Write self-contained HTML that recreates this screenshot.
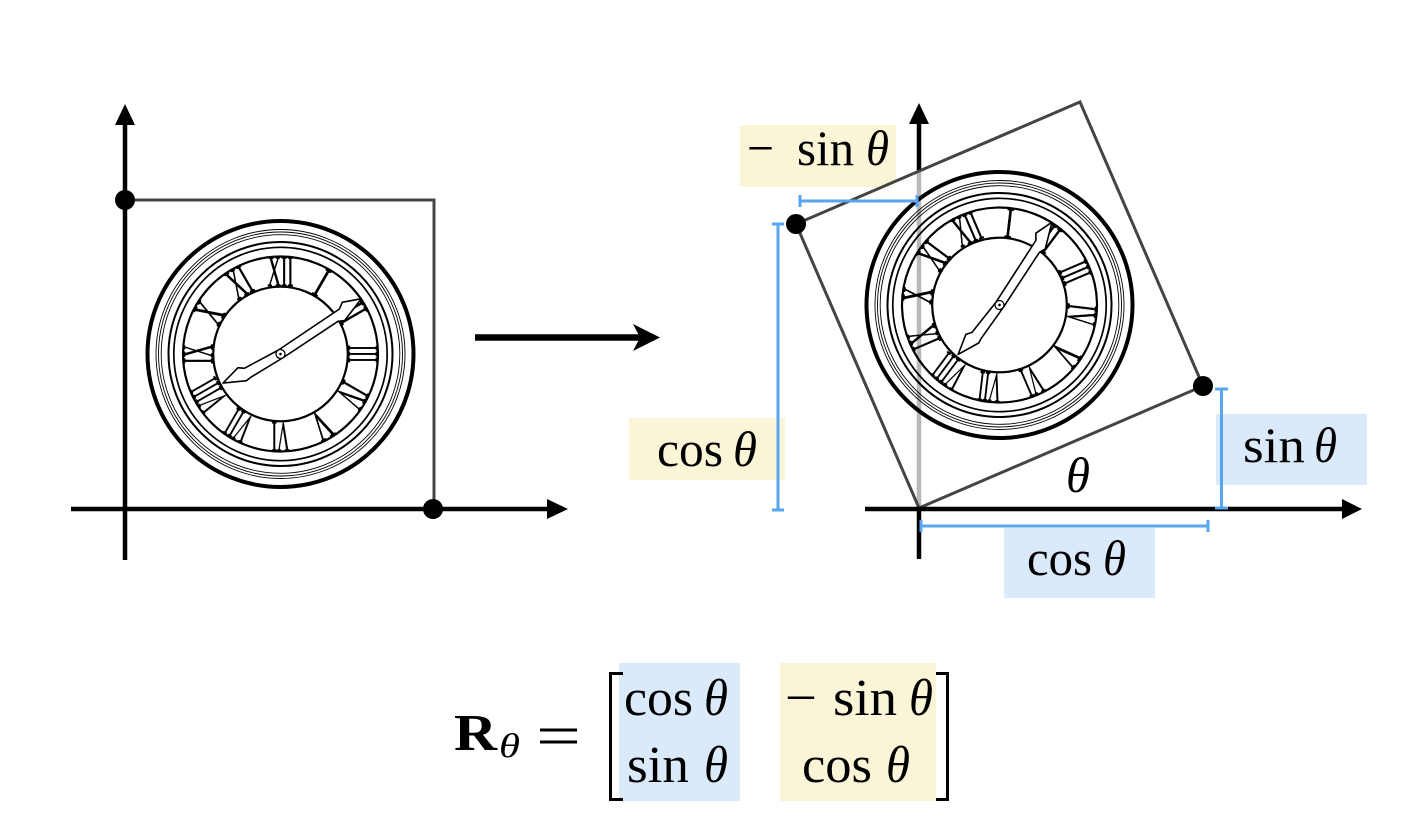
<!DOCTYPE html>
<html><head><meta charset="utf-8"><style>
html,body{margin:0;padding:0;background:#fff;}
svg{display:block;}
text{font-family:"Liberation Serif","DejaVu Serif",serif;}
.it{font-style:italic;}
</style></head><body>
<svg width="1404" height="825" viewBox="0 0 1404 825" xmlns="http://www.w3.org/2000/svg">
<rect width="1404" height="825" fill="#fff"/>

<!-- label boxes -->
<rect x="740" y="125" width="156" height="62" fill="#fbf5d8"/>
<rect x="629" y="418" width="156" height="62" fill="#fbf5d8"/>
<rect x="1216" y="414" width="151" height="71" fill="#dbeafb"/>
<rect x="1004" y="528" width="151" height="70" fill="#dbeafb"/>
<rect x="619" y="663" width="121" height="138" fill="#dbeafb"/>
<rect x="780" y="663" width="156" height="138" fill="#fbf5d8"/>

<!-- LEFT FIGURE -->
<path d="M125,200 H434 V509" fill="none" stroke="#444" stroke-width="3"/>
<g transform="translate(280.5,354)" fill="none" stroke="#000">
  <circle r="133" stroke-width="4"/>
  <circle r="124.5" stroke-width="0.9"/>
  <circle r="122" stroke-width="0.9"/>
  <circle r="119.3" stroke-width="0.9"/>
  <circle r="112" stroke-width="2"/>
  <circle r="106.7" stroke-width="1.7"/>
  <circle r="97.5" stroke-width="2.2"/>
  <circle r="67.3" stroke-width="2.2"/>
  <g fill="#000" stroke="#000" stroke-width="0.8" font-size="44" text-anchor="middle">
    <text x="0" y="-68" textLength="26" lengthAdjust="spacingAndGlyphs">XII</text>
    <text x="0" y="-68" transform="rotate(30)" textLength="8" lengthAdjust="spacingAndGlyphs">I</text>
    <text x="0" y="-68" transform="rotate(60)" textLength="14" lengthAdjust="spacingAndGlyphs">II</text>
    <text x="0" y="-68" transform="rotate(90)" textLength="18" lengthAdjust="spacingAndGlyphs">III</text>
    <text x="0" y="-68" transform="rotate(120)" textLength="21" lengthAdjust="spacingAndGlyphs">IV</text>
    <text x="0" y="-68" transform="rotate(150)" textLength="17" lengthAdjust="spacingAndGlyphs">V</text>
    <text x="0" y="-68" transform="rotate(180)" textLength="18" lengthAdjust="spacingAndGlyphs">VI</text>
    <text x="0" y="-68" transform="rotate(210)" textLength="23" lengthAdjust="spacingAndGlyphs">VII</text>
    <text x="0" y="-68" transform="rotate(240)" textLength="29" lengthAdjust="spacingAndGlyphs">VIII</text>
    <text x="0" y="-68" transform="rotate(270)" textLength="20" lengthAdjust="spacingAndGlyphs">IX</text>
    <text x="0" y="-68" transform="rotate(300)" textLength="16" lengthAdjust="spacingAndGlyphs">X</text>
    <text x="0" y="-68" transform="rotate(330)" textLength="21" lengthAdjust="spacingAndGlyphs">XI</text>
  </g>
  <g transform="rotate(-33.5)">
    <polygon points="5,-4.5 74,-5 80,-9 98,-1.5 72,7.5 66,4.5 0,4.5 -38,3 -43,3.5 -64,-7.5 -43,-12 -38,-8 0,-4.5" fill="#fff" stroke="#000" stroke-width="1.6" stroke-linejoin="round"/>
    <circle r="4.5" fill="#fff" stroke-width="1.3"/>
    <circle r="1.3" fill="#000" stroke="none"/>
  </g>
</g>
<line x1="71" y1="509" x2="550" y2="509" stroke="#000" stroke-width="4.5"/>
<polygon points="568,509 547,499 547,519" fill="#000"/>
<line x1="125" y1="560" x2="125" y2="122" stroke="#000" stroke-width="4.5"/>
<polygon points="125,104 115,125 135,125" fill="#000"/>
<circle cx="125" cy="200" r="10" fill="#000"/>
<circle cx="433" cy="509" r="10" fill="#000"/>

<!-- middle arrow -->
<line x1="475" y1="337.5" x2="641" y2="337.5" stroke="#000" stroke-width="6.5"/>
<polygon points="660,337.5 633,324 640,337.5 633,351" fill="#000"/>

<!-- RIGHT FIGURE -->
<line x1="919" y1="559" x2="919" y2="122" stroke="#000" stroke-width="4.5"/>
<polygon points="919,103 909,124 929,124" fill="#000"/>
<polygon points="919,508 1203,386 1080,102 796,224" fill="#fff" fill-opacity="0.72"/>
<g transform="translate(999.5,305) rotate(-23.25)" fill="none" stroke="#000">
  <circle r="133" stroke-width="4"/>
  <circle r="124.5" stroke-width="0.9"/>
  <circle r="122" stroke-width="0.9"/>
  <circle r="119.3" stroke-width="0.9"/>
  <circle r="112" stroke-width="2"/>
  <circle r="106.7" stroke-width="1.7"/>
  <circle r="97.5" stroke-width="2.2"/>
  <circle r="67.3" stroke-width="2.2"/>
  <g fill="#000" stroke="#000" stroke-width="0.8" font-size="44" text-anchor="middle">
    <text x="0" y="-68" textLength="26" lengthAdjust="spacingAndGlyphs">XII</text>
    <text x="0" y="-68" transform="rotate(30)" textLength="8" lengthAdjust="spacingAndGlyphs">I</text>
    <text x="0" y="-68" transform="rotate(60)" textLength="14" lengthAdjust="spacingAndGlyphs">II</text>
    <text x="0" y="-68" transform="rotate(90)" textLength="18" lengthAdjust="spacingAndGlyphs">III</text>
    <text x="0" y="-68" transform="rotate(120)" textLength="21" lengthAdjust="spacingAndGlyphs">IV</text>
    <text x="0" y="-68" transform="rotate(150)" textLength="17" lengthAdjust="spacingAndGlyphs">V</text>
    <text x="0" y="-68" transform="rotate(180)" textLength="18" lengthAdjust="spacingAndGlyphs">VI</text>
    <text x="0" y="-68" transform="rotate(210)" textLength="23" lengthAdjust="spacingAndGlyphs">VII</text>
    <text x="0" y="-68" transform="rotate(240)" textLength="29" lengthAdjust="spacingAndGlyphs">VIII</text>
    <text x="0" y="-68" transform="rotate(270)" textLength="20" lengthAdjust="spacingAndGlyphs">IX</text>
    <text x="0" y="-68" transform="rotate(300)" textLength="16" lengthAdjust="spacingAndGlyphs">X</text>
    <text x="0" y="-68" transform="rotate(330)" textLength="21" lengthAdjust="spacingAndGlyphs">XI</text>
  </g>
  <g transform="rotate(-33.5)">
    <polygon points="5,-4.5 74,-5 80,-9 98,-1.5 72,7.5 66,4.5 0,4.5 -38,3 -43,3.5 -64,-7.5 -43,-12 -38,-8 0,-4.5" fill="#fff" stroke="#000" stroke-width="1.6" stroke-linejoin="round"/>
    <circle r="4.5" fill="#fff" stroke-width="1.3"/>
    <circle r="1.3" fill="#000" stroke="none"/>
  </g>
</g>
<polygon points="919,508 1203,386 1080,102 796,224" fill="none" stroke="#444" stroke-width="3" stroke-linejoin="miter"/>
<line x1="865" y1="509" x2="1345" y2="509" stroke="#000" stroke-width="4.5"/>
<polygon points="1362,509 1342,499 1342,519" fill="#000"/>
<circle cx="796" cy="224" r="10" fill="#000"/>
<circle cx="1203" cy="386" r="10" fill="#000"/>

<!-- blue dimension lines -->
<g stroke="#58a6f2" stroke-width="3" fill="none">
  <path d="M800,201 H917 M800,195 V207 M917,195 V207"/>
  <path d="M778,224 V510 M772,224 H784 M772,510 H784"/>
  <path d="M1221.5,389 V508 M1215,389 H1228 M1215,508 H1228"/>
  <path d="M921,526 H1208 M921,520 V532 M1208,520 V532"/>
</g>

<!-- labels -->
<g font-size="50" fill="#000">
  <text x="747" y="165" textLength="27" lengthAdjust="spacingAndGlyphs">−</text>
  <text x="797" y="165" textLength="57" lengthAdjust="spacingAndGlyphs">sin</text>
  <text x="866" y="165" class="it" textLength="23" lengthAdjust="spacingAndGlyphs">θ</text>

  <text x="657" y="466" textLength="66" lengthAdjust="spacingAndGlyphs">cos</text>
  <text x="733" y="466" class="it" textLength="24" lengthAdjust="spacingAndGlyphs">θ</text>

  <text x="1243" y="462" textLength="62" lengthAdjust="spacingAndGlyphs">sin</text>
  <text x="1314" y="462" class="it" textLength="23" lengthAdjust="spacingAndGlyphs">θ</text>

  <text x="1027" y="575" textLength="65" lengthAdjust="spacingAndGlyphs">cos</text>
  <text x="1103" y="575" class="it" textLength="23" lengthAdjust="spacingAndGlyphs">θ</text>

  <text x="1066" y="492" class="it" textLength="24" lengthAdjust="spacingAndGlyphs">θ</text>
</g>

<!-- matrix -->
<g font-size="52" fill="#000">
  <text x="454" y="750" font-weight="bold" textLength="43" lengthAdjust="spacingAndGlyphs">R</text>
  <text x="499" y="757" class="it" font-size="34" textLength="21" lengthAdjust="spacingAndGlyphs">θ</text>
  <rect x="540" y="728.5" width="37" height="3" fill="#000"/>
  <rect x="540" y="740.5" width="37" height="3" fill="#000"/>

  <text x="624" y="715" textLength="69" lengthAdjust="spacingAndGlyphs">cos</text>
  <text x="704" y="715" class="it" textLength="24" lengthAdjust="spacingAndGlyphs">θ</text>
  <text x="627" y="782" textLength="62" lengthAdjust="spacingAndGlyphs">sin</text>
  <text x="704" y="782" class="it" textLength="24" lengthAdjust="spacingAndGlyphs">θ</text>

  <text x="785" y="715" textLength="32" lengthAdjust="spacingAndGlyphs">−</text>
  <text x="833" y="715" textLength="64" lengthAdjust="spacingAndGlyphs">sin</text>
  <text x="909" y="715" class="it" textLength="24" lengthAdjust="spacingAndGlyphs">θ</text>
  <text x="802" y="782" textLength="70" lengthAdjust="spacingAndGlyphs">cos</text>
  <text x="886" y="782" class="it" textLength="24" lengthAdjust="spacingAndGlyphs">θ</text>
</g>
<path d="M623,673.5 H610.5 V799.5 H623" fill="none" stroke="#000" stroke-width="3"/>
<path d="M936,673.5 H947.5 V799.5 H936" fill="none" stroke="#000" stroke-width="3"/>
</svg>
</body></html>
